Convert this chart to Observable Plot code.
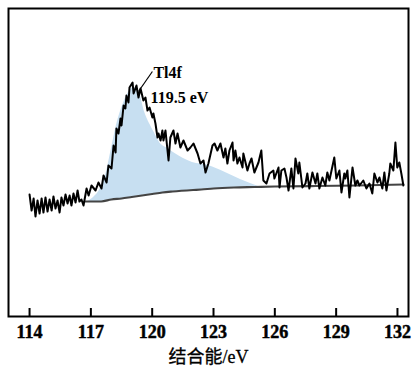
<!DOCTYPE html>
<html>
<head>
<meta charset="utf-8">
<script src="https://cdn.jsdelivr.net/npm/d3@7"></script>
<script src="https://cdn.jsdelivr.net/npm/@observablehq/plot@0.6"></script>
<style>
  html, body { margin: 0; padding: 0; background: #fff; }
  #chart svg { display: block; }
</style>
</head>
<body>
<div id="chart"></div>
<script>
// Binding energy (eV) and intensity (a.u.) of the measured Tl4f spectrum
const energy = [
  114.00,114.10,114.20,114.29,114.39,114.49,114.59,114.68,114.78,114.88,
  114.98,115.08,115.17,115.27,115.37,115.47,115.56,115.66,115.76,115.86,
  115.96,116.05,116.15,116.25,116.35,116.44,116.54,116.64,116.79,116.89,
  117.03,117.23,117.37,117.52,117.62,117.77,117.86,118.01,118.11,118.21,
  118.25,118.35,118.45,118.50,118.60,118.69,118.74,118.84,118.89,119.04,
  119.09,119.23,119.33,119.43,119.57,119.67,119.77,119.87,120.01,120.06,
  120.16,120.26,120.31,120.41,120.50,120.55,120.65,120.80,120.89,121.04,
  121.14,121.24,121.38,121.53,121.73,121.87,122.02,122.22,122.36,122.51,
  122.61,122.75,122.95,123.05,123.19,123.34,123.49,123.58,123.68,123.78,
  123.93,123.98,124.07,124.17,124.27,124.42,124.46,124.66,124.76,124.86,
  125.00,125.20,125.34,125.44,125.59,125.74,125.93,125.98,126.18,126.23,
  126.32,126.47,126.57,126.67,126.81,126.91,127.01,127.15,127.20,127.35,
  127.50,127.59,127.69,127.84,127.99,128.08,128.18,128.33,128.47,128.57,
  128.67,128.91,129.01,129.16,129.26,129.40,129.45,129.55,129.65,129.80,
  129.94,130.04,130.14,130.33,130.48,130.63,130.77,130.87,131.02,131.12,
  131.26,131.36,131.46,131.60,131.65,131.80,131.90,131.99,132.09,132.19,
  132.29
];
const intensity = [
  122,106,118,100,116,103,118,104,119,105,
  117,106,120,108,116,104,119,111,122,113,
  121,111,123,114,126,115,117,111,128,121,
  131,126,134,128,141,134,151,148,171,164,
  188,183,198,191,211,208,221,214,229,234,
  223,231,219,228,216,219,206,209,199,203,
  193,179,183,176,186,176,186,156,179,186,
  173,183,169,176,166,169,173,163,153,156,
  144,153,171,173,166,173,159,168,153,166,
  174,156,166,153,159,149,163,146,153,158,
  144,154,166,136,133,143,146,138,149,129,
  146,148,139,126,148,128,158,143,154,129,
  133,143,128,144,133,143,128,139,131,144,
  136,159,138,146,124,143,138,146,119,149,
  131,136,131,136,128,133,123,143,134,139,
  128,144,126,143,153,146,174,149,154,143,
  131
];

// Background (Shirley-type) curve
const bgEnergy    = [116.74,117.5,118.0,118.5,119.0,119.5,120.0,120.5,121.0,122.0,122.4,123.0,124.0,125.0,126.0,128.0,130.0,132.29];
const bgIntensity = [115,115,117,118,119.5,121,122.5,124,125,126.5,127,128,129,129.5,130,130.5,131,132];

// Fitted Tl4f peak envelope (shaded)
const fitEnergy = [116.84,117.13,117.47,117.72,118.01,118.25,118.50,118.84,119.09,119.33,119.62,120.10,120.36,120.75,121.04,121.97,122.75,123.58,124.32,124.81,125.20];
const fitTop    = [115,119,128,141,168,191,208,224,229,226,205,184,174,168,164,154,151,144,137,133,130];
const fitBase   = [115,115,115,116,117,117.5,118,119,119.8,120.5,121.4,122.8,123.6,124.5,125,126.5,127.6,128.6,129.2,129.4,129.6];

// Axis
const xTicks = [114,117,120,123,126,129,132];
const xDomain = [112.97, 132.54];
const yDomain = [0, 308];
const xLabel = "结合能/eV";

// Annotation
const annoLines = ["Tl4f", "119.5 eV"];
const annoX = [120.06, 119.92];
const annoY = [239, 214];
const leader = [{x1: 120.01, y1: 245, x2: 119.33, y2: 225}];

const spectrum = energy.map((e, i) => ({e, v: intensity[i]}));
const bg = bgEnergy.map((e, i) => ({e, v: bgIntensity[i]}));
const fit = fitEnergy.map((e, i) => ({e, top: fitTop[i], base: fitBase[i]}));
const anno = annoLines.map((t, i) => ({t, x: annoX[i], y: annoY[i]}));

const serif = "'Liberation Serif', 'Times New Roman', serif";

const chart = Plot.plot({
  width: 414,
  height: 368,
  marginLeft: 8,
  marginRight: 6,
  marginTop: 8,
  marginBottom: 52,
  style: {fontFamily: serif, background: "#fff"},
  x: {domain: xDomain, axis: null},
  y: {domain: yDomain, axis: null},
  marks: [
    Plot.areaY(fit, {x: "e", y1: "base", y2: "top", fill: "#c7dff1", curve: "monotone-x"}),
    Plot.line(bg, {x: "e", y: "v", stroke: "#444", strokeWidth: 2.2, curve: "monotone-x"}),
    Plot.line(spectrum, {x: "e", y: "v", stroke: "#000", strokeWidth: 2, strokeLinejoin: "round"}),
    Plot.link(leader, {x1: "x1", y1: "y1", x2: "x2", y2: "y2", stroke: "#000", strokeWidth: 1.2}),
    Plot.text(anno, {x: "x", y: "y", text: "t", textAnchor: "start", lineAnchor: "bottom",
      fontSize: 16, fontWeight: "bold", fill: "#000", fontFamily: serif}),
    Plot.tickX(xTicks, {x: d => d, insetTop: 300, stroke: "#000", strokeWidth: 2}),
    Plot.text(xTicks, {x: d => d, text: d => String(d), frameAnchor: "bottom", dy: 21, lineAnchor: "bottom",
      fontSize: 18, fontWeight: "bold", fill: "#000", stroke: "#000", strokeWidth: 0.5, fontFamily: serif}),
    Plot.text([xLabel], {frameAnchor: "bottom", dy: 46, lineAnchor: "bottom", text: d => d,
      fontSize: 18, fill: "#000", stroke: "#000", strokeWidth: 0.3,
      fontFamily: "'Liberation Serif', 'Noto Sans CJK SC', serif"}),
    Plot.frame({stroke: "#000", strokeWidth: 2})
  ]
});
document.getElementById("chart").appendChild(chart);
</script>
</body>
</html>
